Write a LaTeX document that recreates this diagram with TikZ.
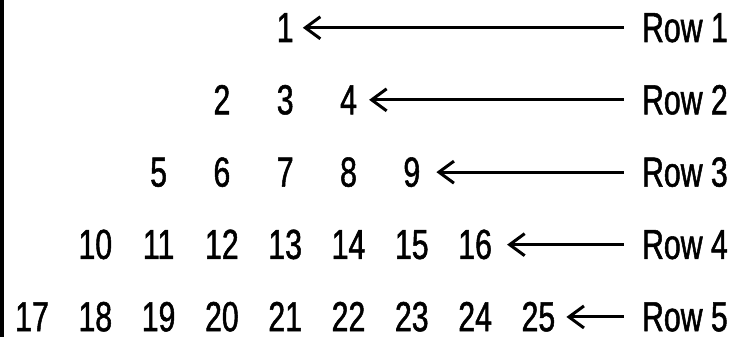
\documentclass[tikz,border=0pt]{standalone}
\usepackage{fontspec}
\setmainfont[FakeStretch=0.72,FakeBold=1.2]{Liberation Sans}
\usetikzlibrary{arrows.meta}
\begin{document}
\begin{tikzpicture}[x=1pt,y=-1pt,
  num/.style={inner sep=0pt, anchor=base, font=\fontsize{42}{50}\selectfont},
  lab/.style={inner sep=0pt, anchor=base east, font=\fontsize{42}{50}\selectfont},
  conn/.style={line width=3pt, -{Straight Barb[length=15pt,width=22pt,line width=3pt]}, shorten <=18pt}]
\useasboundingbox (0,0) rectangle (734,337);
\fill (0,0) rectangle (4,337);
% column centres: 32 + 63.3*(k-1); baselines: 42 + 72.3*(r-1)
% Row 1
\node[num] (n1) at (285.2,42) {1};
% Row 2
\node[num] (n2) at (221.9,114.3) {2};
\node[num] (n3) at (285.2,114.3) {3};
\node[num] (n4) at (348.5,114.3) {4};
% Row 3
\node[num] (n5) at (158.6,186.6) {5};
\node[num] (n6) at (221.9,186.6) {6};
\node[num] (n7) at (285.2,186.6) {7};
\node[num] (n8) at (348.5,186.6) {8};
\node[num] (n9) at (411.8,186.6) {9};
% Row 4
\node[num] (n10) at (95.3,258.9) {10};
\node[num] (n11) at (158.6,258.9) {11};
\node[num] (n12) at (221.9,258.9) {12};
\node[num] (n13) at (285.2,258.9) {13};
\node[num] (n14) at (348.5,258.9) {14};
\node[num] (n15) at (411.8,258.9) {15};
\node[num] (n16) at (475.1,258.9) {16};
% Row 5
\node[num] (n17) at (32,331.2) {17};
\node[num] (n18) at (95.3,331.2) {18};
\node[num] (n19) at (158.6,331.2) {19};
\node[num] (n20) at (221.9,331.2) {20};
\node[num] (n21) at (285.2,331.2) {21};
\node[num] (n22) at (348.5,331.2) {22};
\node[num] (n23) at (411.8,331.2) {23};
\node[num] (n24) at (475.1,331.2) {24};
\node[num] (n25) at (538.4,331.2) {25};
% Labels
\node[lab] (r1) at (728,42) {Row 1};
\node[lab] (r2) at (728,114.3) {Row 2};
\node[lab] (r3) at (728,186.6) {Row 3};
\node[lab] (r4) at (728,258.9) {Row 4};
\node[lab] (r5) at (728,331.2) {Row 5};
% Arrows
\draw[conn, shorten >=9pt] (r1.west) -- (n1.east |- r1.west);
\draw[conn, shorten >=12pt] (r2.west) -- (n4.east |- r2.west);
\draw[conn, shorten >=16pt] (r3.west) -- (n9.east |- r3.west);
\draw[conn, shorten >=15pt] (r4.west) -- (n16.east |- r4.west);
\draw[conn, shorten >=11pt] (r5.west) -- (n25.east |- r5.west);
\end{tikzpicture}
\end{document}
